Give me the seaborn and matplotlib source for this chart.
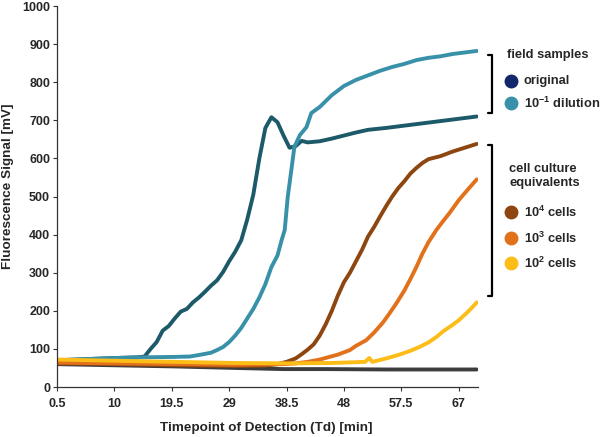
import matplotlib
matplotlib.use("Agg")
import matplotlib.pyplot as plt
from matplotlib.lines import Line2D
import seaborn as sns
import pandas as pd

# --- data (time in min, signal in mV) ---
t_blank = [0.5, 10, 20, 30, 38, 45, 55, 70]
v_blank = [60, 57, 54, 50, 47, 47, 46, 46]

t_orig = [0.5, 5, 10, 14, 15, 16, 17, 18, 19, 20, 21, 22, 23, 24, 25, 26, 27, 28, 29, 30,
          31, 32, 33, 34, 35, 36, 37, 38, 39, 40, 41, 42, 44, 46, 48, 50, 52, 55, 58, 61,
          64, 67, 70]
v_orig = [70, 73, 76, 78, 80, 100, 118, 148, 160, 180, 198, 205, 222, 235, 250, 266, 280, 302, 330, 355,
          385, 440, 505, 600, 680, 708, 695, 660, 628, 632, 646, 642, 645, 652, 660, 668, 675, 680, 686, 692,
          698, 704, 710]

t_dil = [0.5, 5, 10, 15, 20, 22.5, 24, 26, 27, 28, 29, 30, 31, 32, 33, 34, 35, 36, 37, 37.7,
         38.2, 38.7, 39.3, 39.8, 40.7, 41.8, 42.6, 44, 46, 48, 50, 52, 54, 56, 58, 60, 62, 64,
         66, 68, 70]
v_dil = [70, 73, 76, 78, 79, 80, 84, 90, 97, 105, 118, 135, 155, 180, 205, 235, 270, 315, 345, 386,
         412, 499, 570, 630, 661, 682, 719, 735, 766, 790, 806, 818, 830, 840, 848, 858, 864, 868,
         874, 878, 882]

t_c4 = [0.5, 10, 20, 30, 35, 37, 38.5, 40, 41, 42, 43, 44, 45, 46, 47, 48, 49, 50, 51, 52,
        53, 54, 55, 56, 57, 58, 59, 60, 61, 62, 64, 66, 68, 70]
v_c4 = [62, 60, 57, 55, 56, 60, 66, 75, 86, 98, 112, 135, 165, 200, 240, 275, 300, 330, 360, 395,
        420, 448, 475, 500, 522, 540, 560, 575, 588, 598, 606, 618, 628, 638]

t_c3 = [0.5, 10, 20, 30, 38, 40, 42, 44, 45.6, 47, 49, 50, 51.7, 53, 54.4, 55.5, 56.7, 58, 59, 60,
        61, 62, 63.3, 64.5, 65.5, 67, 68.5, 70]
v_c3 = [64, 62, 60, 58, 60, 62, 66, 72, 79, 85, 97, 108, 123, 143, 168, 192, 220, 253, 283, 315,
        350, 380, 412, 437, 457, 490, 518, 545]

t_c2 = [0.5, 10, 20, 30, 40, 46, 51.5, 52.2, 52.7, 55, 57, 59, 60.5, 62, 63.3, 64.5, 66, 67, 68.3, 69, 70]
v_c2 = [72, 69, 66, 63, 62, 63, 66, 76, 66, 75, 84, 95, 105, 117, 131, 147, 163, 175, 194, 205, 222]

x_ticks = [0.5, 10, 19.5, 29, 38.5, 48, 57.5, 67]
y_ticks = list(range(0, 1001, 100))

series = [
    ("blank", t_blank, v_blank, "#3d3d3d"),
    ("original", t_orig, v_orig, "#1d5a69"),
    ("dilution", t_dil, v_dil, "#3991a9"),
    ("1e4", t_c4, v_c4, "#8e4610"),
    ("1e3", t_c3, v_c3, "#e2711b"),
    ("1e2", t_c2, v_c2, "#fdbd18"),
]

sns.set_style("ticks")
plt.rcParams["font.family"] = ["Liberation Sans", "DejaVu Sans"]
plt.rcParams["font.weight"] = "bold"
plt.rcParams["mathtext.fontset"] = "custom"
plt.rcParams["mathtext.rm"] = "Liberation Sans:bold"
plt.rcParams["mathtext.it"] = "Liberation Sans:bold"
plt.rcParams["mathtext.bf"] = "Liberation Sans:bold"

fig = plt.figure(figsize=(6, 4.37), dpi=100)
ax = fig.add_axes([57 / 600, 1 - 387 / 437, (478 - 57) / 600, (387 - 6) / 437])

for name, t, v, col in series:
    df = pd.DataFrame({"t": t, "v": v})
    sns.lineplot(data=df, x="t", y="v", ax=ax, color=col, linewidth=2.8,
                 sort=False, estimator=None, solid_capstyle="round")

ax.set_xlim(0.5, 70.2)
ax.set_ylim(0, 1000)
ax.set_xticks(x_ticks)
ax.set_xticklabels([f"{x:g}" for x in x_ticks])
ax.set_yticks(y_ticks)
ax.tick_params(labelsize=9, length=3, width=0.8, color="#333333", pad=2)
ax.tick_params(axis="x", pad=5)
for lab in ax.get_xticklabels() + ax.get_yticklabels():
    lab.set_fontweight("bold")
sns.despine(ax=ax)
for s in ["left", "bottom"]:
    ax.spines[s].set_color("#333333")
    ax.spines[s].set_linewidth(0.9)

ax.set_xlabel("Timepoint of Detection (Td) [min]", fontsize=9.7, fontweight="bold")
ax.set_ylabel("Fluorescence Signal [mV]", fontsize=9.7, fontweight="bold")
ax.xaxis.set_label_coords((266 - 57) / 421, -(428 - 387) / 381)
ax.yaxis.set_label_coords((8 - 57) / 421, (387 - 186) / 381)
ax.xaxis.label.set_va("center")
ax.yaxis.label.set_va("center")


def fx(px):
    return px / 600


def fy(py):
    return 1 - py / 437


def bracket(x, y0, y1):
    fig.add_artist(Line2D([fx(x - 4), fx(x), fx(x), fx(x - 4)],
                          [fy(y0), fy(y0), fy(y1), fy(y1)],
                          transform=fig.transFigure, color="black", linewidth=1.6))


bracket(492, 55, 113)
bracket(492, 145, 296)

fig.text(fx(507), fy(55), "field samples", fontsize=9.3, fontweight="bold", va="center")
fig.text(fx(509), fy(176), "cell culture\nequivalents", fontsize=9.3, fontweight="bold",
         va="center", linespacing=1.25)

legend_items = [
    (81, "#12286a", "original"),
    (103, "#3991a9", "10$^{-1}$ dilution"),
    (212, "#8e4610", "10$^{4}$ cells"),
    (238, "#e2711b", "10$^{3}$ cells"),
    (263, "#fdbd18", "10$^{2}$ cells"),
]
for py, col, label in legend_items:
    fig.add_artist(Line2D([fx(511)], [fy(py)], marker="o", markersize=9, color=col,
                          linestyle="none", transform=fig.transFigure))
    fig.text(fx(524), fy(py), label, fontsize=9.3, fontweight="bold", va="center")

fig.savefig("out.png", dpi=100)
